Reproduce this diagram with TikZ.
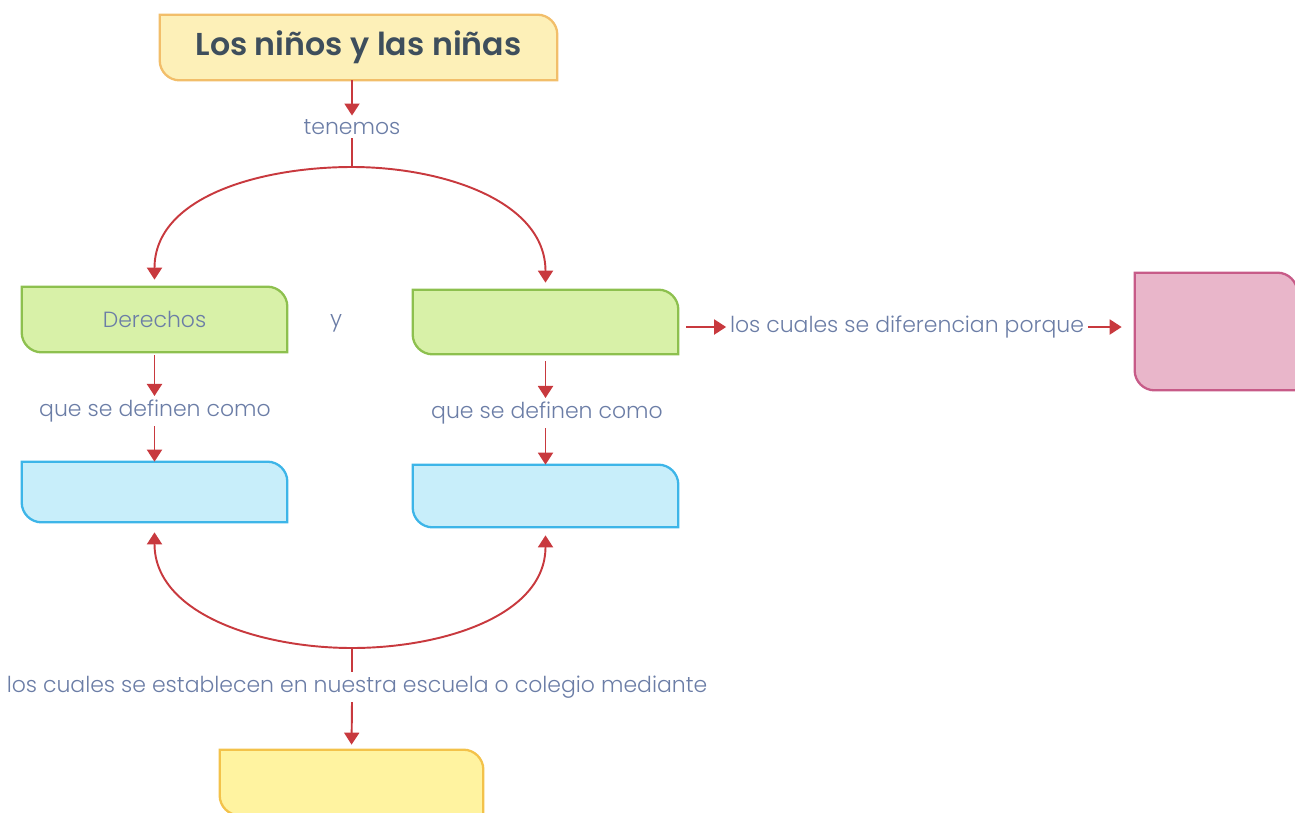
\documentclass[tikz,border=0pt]{standalone}
\usepackage{fontspec}
\setmainfont{Poppins}[UprightFont=* Light,BoldFont=* SemiBold]
\usetikzlibrary{arrows.meta,backgrounds}

\definecolor{rojo}{HTML}{C8393E}
\definecolor{letra}{HTML}{6B7DA6}
\definecolor{titulotxt}{HTML}{3E4E5C}
\definecolor{amarfondo}{HTML}{FDF0B8}
\definecolor{amarborde}{HTML}{F2BE6A}
\definecolor{verdefondo}{HTML}{D8F1A8}
\definecolor{verdeborde}{HTML}{8DC04E}
\definecolor{azulfondo}{HTML}{C8EEFA}
\definecolor{azulborde}{HTML}{3DB5E8}
\definecolor{rosafondo}{HTML}{E9B6CA}
\definecolor{rosaborde}{HTML}{C75B88}
\definecolor{limonfondo}{HTML}{FFF3A0}
\definecolor{limonborde}{HTML}{F3C24A}

% caja con dos esquinas redondeadas (arriba-derecha, abajo-izquierda)
\newcommand{\caja}[2]{%
\draw[#1] (#2.north west) -- ([xshift=-0.4cm]#2.north east)
arc[start angle=90,end angle=0,radius=0.4cm] -- (#2.south east)
-- ([xshift=0.4cm]#2.south west)
arc[start angle=270,end angle=180,radius=0.4cm] -- cycle;}

\tikzset{
texto/.style={text=letra,font=\fontsize{12.5}{14}\selectfont,inner sep=2pt},
hueco/.style={inner sep=0pt,minimum width=5.3cm,minimum height=1.3cm},
flecha/.style={draw=rojo,line width=1.1pt,-{Triangle[length=0.24cm,width=0.3cm]}},
linea/.style={draw=rojo,line width=1.1pt},
}

\begin{document}
\begin{tikzpicture}[x=0.02cm,y=-0.02cm,line join=round]
\useasboundingbox (0,0) rectangle (1295,812);
% Cajas
\node[hueco,minimum width=7.94cm,text=titulotxt,
font=\fontsize{18}{20}\selectfont\bfseries] (titulo) at (358.5,47.5)
{Los niños y las niñas};
\node[hueco,texto] (der) at (154.5,319.5) {Derechos};
\node[hueco,minimum height=1.28cm] (verde2) at (545.5,322) {};
\node[hueco,minimum height=1.2cm] (azul1) at (154.5,492) {};
\node[hueco,minimum height=1.24cm] (azul2) at (545.5,496) {};
\node[hueco,minimum width=3.24cm,minimum height=2.34cm] (rosa) at (1216,331.5) {};
\node[hueco,minimum width=5.26cm] (limon) at (351.5,782.5) {};
\begin{scope}[on background layer]
\caja{fill=amarfondo,draw=amarborde,line width=1.3pt}{titulo}
\caja{fill=verdefondo,draw=verdeborde,line width=1.3pt}{der}
\caja{fill=verdefondo,draw=verdeborde,line width=1.3pt}{verde2}
\caja{fill=azulfondo,draw=azulborde,line width=1.3pt}{azul1}
\caja{fill=azulfondo,draw=azulborde,line width=1.3pt}{azul2}
\caja{fill=rosafondo,draw=rosaborde,line width=1.3pt}{rosa}
\caja{fill=limonfondo,draw=limonborde,line width=1.3pt}{limon}
\end{scope}
% Textos de enlace
\node[texto] (tenemos) at (352,127) {tenemos};
\node[texto] (y) at (336,323) {y};
\node[texto] (def1) at (155,411) {que se definen como};
\node[texto] (def2) at (547,413) {que se definen como};
\node[texto] (dif) at (907,327) {los cuales se diferencian porque};
\node[texto] (est) at (357,687)
{los cuales se establecen en nuestra escuela o colegio mediante};
\coordinate (jt) at (352,167);
\coordinate (jb) at (352,648);
% Flechas
\draw[flecha] (titulo.south -| tenemos) -- (tenemos.north);
\draw[linea] (tenemos.south -| jt) -- (jt);
\draw[flecha,shorten >=0.14cm] (jt) to[out=180,in=90] (der.north);
\draw[flecha,shorten >=0.14cm] (jt) to[out=0,in=90] (verde2.north);
\draw[flecha,shorten <=0.06cm] (der.south) -- (def1.north -| der.south);
\draw[flecha] (def1.south -| der.south) -- (azul1.north);
\draw[flecha,shorten <=0.14cm] (verde2.south) -- (def2.north -| verde2.south);
\draw[flecha] (def2.south -| verde2.south) -- (azul2.north);
\draw[flecha,shorten <=0.16cm] (verde2.east |- dif.west) -- (dif.west);
\draw[flecha,shorten >=0.26cm] (dif.east) -- (rosa.west |- dif.east);
\draw[flecha,shorten >=0.2cm] (jb) to[out=180,in=-90] (azul1.south);
\draw[flecha,shorten >=0.16cm] (jb) to[out=0,in=-90] (azul2.south);
\draw[linea] (jb) -- (est.north -| jb);
\draw[flecha,shorten >=0.1cm] (est.south -| jb) -- (limon.north);
\end{tikzpicture}
\end{document}
